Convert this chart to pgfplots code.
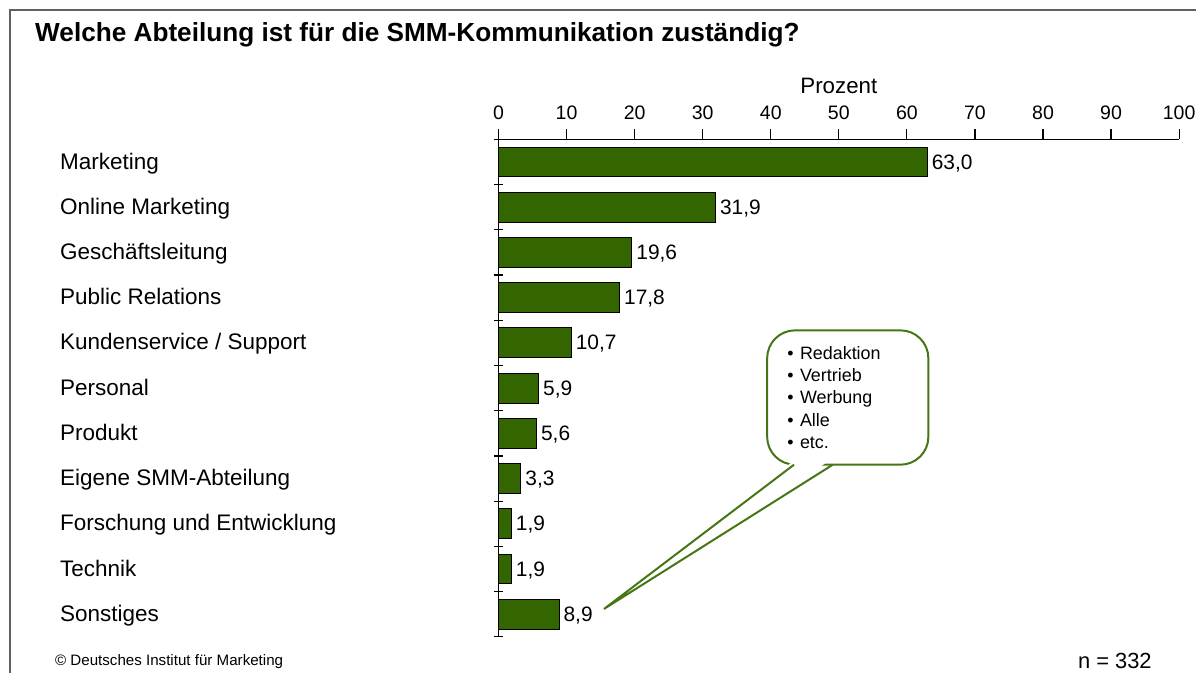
\documentclass[border=0pt]{standalone}
\usepackage{pgfplots}
\pgfplotsset{compat=1.18}
\usepackage{fontspec}
\setmainfont{Liberation Sans}
\definecolor{bargreen}{HTML}{336600}
\definecolor{callgreen}{HTML}{457514}
\definecolor{framegray}{HTML}{606060}

\begin{document}
\begin{tikzpicture}
% page of 1202 x 676 px, 1 px = 0.5bp
\begin{scope}[x=0.5bp,y=-0.5bp]
  \useasboundingbox (0,0) rectangle (1202,676);
  \draw[framegray, line width=0.75bp] (10,676) -- (10,10) -- (1202,10);
  \node[anchor=base west, inner sep=0, font=\bfseries\fontsize{13.15bp}{15bp}\selectfont]
    at (35,42) {Welche Abteilung ist für die SMM-Kommunikation zuständig?};
\end{scope}

\begin{axis}[
  at={(250.5bp,-70bp)}, anchor=north west,
  width=342bp, height=250bp, scale only axis,
  xmin=0, xmax=100, ymin=0.5, ymax=11.5, y dir=reverse,
  axis x line*=top, axis y line*=left,
  axis line style={-, line width=0.6bp},
  xtick={0,10,...,100}, xtick align=outside,
  major tick length=5bp,
  tick style={black, line width=0.6bp},
  /pgf/number format/assume math mode=true,
  ytick={0.5,1.5,...,11.5}, yticklabels={}, ytick align=center,
  extra y ticks={1,2,...,11},
  extra y tick labels={Marketing, Online Marketing, Geschäftsleitung, Public Relations,
    Kundenservice / Support, Personal, Produkt, Eigene SMM-Abteilung,
    Forschung und Entwicklung, Technik, Sonstiges},
  extra y tick style={major tick length=0pt,
    yticklabel style={anchor=west, inner sep=0pt, xshift=-220.5bp,
      text height=0.716em, text depth=0pt,
      font=\fontsize{11.3bp}{13bp}\selectfont}},
  xticklabel style={font=\fontsize{9.8bp}{12bp}\selectfont, yshift=1.5bp},
  xlabel={Prozent},
  xlabel style={font=\fontsize{11.2bp}{13bp}\selectfont, yshift=-0.7bp},
  clip=false,
]
\addplot[xbar, bar width=15bp, fill=bargreen, draw=black, line width=0.5bp,
  nodes near coords, point meta=explicit symbolic,
  nodes near coords style={anchor=west, inner sep=2bp, text height=0.716em, text depth=0pt,
    font=\fontsize{10.5bp}{12bp}\selectfont}]
  coordinates {
  (63.0,1) [63,0]
  (31.9,2) [31,9]
  (19.6,3) [19,6]
  (17.8,4) [17,8]
  (10.7,5) [10,7]
  (5.9,6) [5,9]
  (5.6,7) [5,6]
  (3.3,8) [3,3]
  (1.9,9) [1,9]
  (1.9,10) [1,9]
  (8.9,11) [8,9]
  };
\end{axis}

\begin{scope}[x=0.5bp,y=-0.5bp]
  % callout
  \draw[callgreen, line width=1bp, rounded corners=14bp] (771,332) rectangle (933,467);
  \fill[white] (799,462) -- (607,612) -- (835,462) -- cycle;
  \draw[callgreen, line width=1bp] (798,467) -- (607,612) -- (837,467);
  \foreach \t [count=\i from 0] in {Redaktion, Vertrieb, Werbung, Alle, etc.}
    \node[anchor=base west, inner sep=0, font=\fontsize{9bp}{11bp}\selectfont]
      at (791,{361+22.5*\i}) {\textbullet\hspace{0.35em}\t};
  % footer
  \node[anchor=base west, inner sep=0, font=\fontsize{7.6bp}{9bp}\selectfont]
    at (55,669) {© Deutsches Institut für Marketing};
  \node[anchor=base west, inner sep=0, font=\fontsize{11bp}{13bp}\selectfont]
    at (1083,672) {n = 332};
\end{scope}
\end{tikzpicture}
\end{document}
